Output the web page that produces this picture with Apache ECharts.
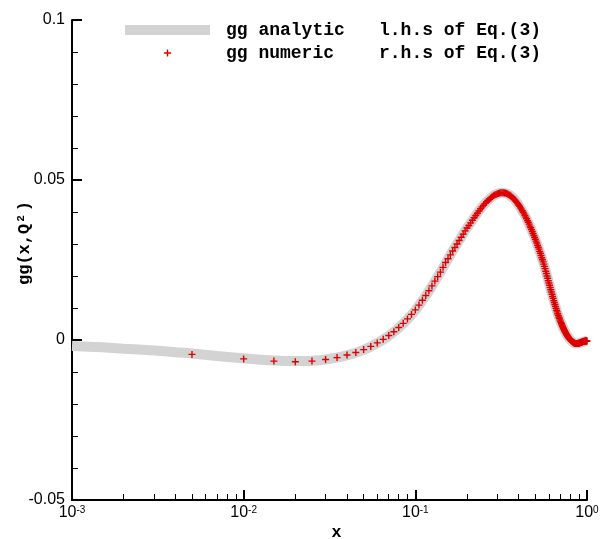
<!DOCTYPE html>
<html>
<head>
<meta charset="utf-8">
<script src="https://cdn.jsdelivr.net/npm/echarts@6/dist/echarts.min.js"></script>
<style>
  html, body { margin: 0; padding: 0; background: #fff; }
  #chart { width: 612px; height: 539px; }
</style>
</head>
<body>
<div id="chart"></div>
<script>
// --- analytic curve (l.h.s of Eq.(3)) ---
const analyticX = [0.001, 0.0015, 0.002, 0.003, 0.004, 0.005, 0.007, 0.01, 0.015, 0.02,
  0.025, 0.03, 0.04, 0.05, 0.06, 0.07, 0.08, 0.09, 0.1, 0.12,
  0.14, 0.16, 0.18, 0.2, 0.22, 0.24, 0.26, 0.28, 0.3, 0.32,
  0.34, 0.36, 0.38, 0.4, 0.43, 0.46, 0.5, 0.54, 0.58, 0.62,
  0.66, 0.7, 0.74, 0.78, 0.82, 0.86, 0.9, 0.94, 0.97, 1.0]
const analyticY = [-0.0019, -0.0023, -0.0027, -0.0033, -0.0038, -0.0042, -0.0050, -0.0057, -0.0064, -0.0066,
  -0.0065, -0.0061, -0.0048, -0.0031, -0.0010, 0.0013, 0.0038, 0.0065, 0.0093, 0.0153,
  0.0212, 0.0266, 0.0311, 0.0350, 0.0382, 0.0410, 0.0432, 0.0448, 0.0457, 0.0460,
  0.0458, 0.0450, 0.0438, 0.0422, 0.0394, 0.0362, 0.0315, 0.0264, 0.0208, 0.0150,
  0.0099, 0.0059, 0.0029, 0.0008, -0.0005, -0.0011, -0.0010, -0.0006, -0.0004, -0.0003]

// --- numeric points (r.h.s of Eq.(3)) ---
const numericX = [
  0.005, 0.010, 0.015, 0.020, 0.025, 0.030, 0.035, 0.040, 0.045, 0.050,
  0.055, 0.060, 0.065, 0.070, 0.075, 0.080, 0.085, 0.090, 0.095, 0.100,
  0.105, 0.110, 0.115, 0.120, 0.125, 0.130, 0.135, 0.140, 0.145, 0.150,
  0.155, 0.160, 0.165, 0.170, 0.175, 0.180, 0.185, 0.190, 0.195, 0.200,
  0.205, 0.210, 0.215, 0.220, 0.225, 0.230, 0.235, 0.240, 0.245, 0.250,
  0.255, 0.260, 0.265, 0.270, 0.275, 0.280, 0.285, 0.290, 0.295, 0.300,
  0.305, 0.310, 0.315, 0.320, 0.325, 0.330, 0.335, 0.340, 0.345, 0.350,
  0.355, 0.360, 0.365, 0.370, 0.375, 0.380, 0.385, 0.390, 0.395, 0.400,
  0.405, 0.410, 0.415, 0.420, 0.425, 0.430, 0.435, 0.440, 0.445, 0.450,
  0.455, 0.460, 0.465, 0.470, 0.475, 0.480, 0.485, 0.490, 0.495, 0.500,
  0.505, 0.510, 0.515, 0.520, 0.525, 0.530, 0.535, 0.540, 0.545, 0.550,
  0.555, 0.560, 0.565, 0.570, 0.575, 0.580, 0.585, 0.590, 0.595, 0.600,
  0.605, 0.610, 0.615, 0.620, 0.625, 0.630, 0.635, 0.640, 0.645, 0.650,
  0.655, 0.660, 0.665, 0.670, 0.675, 0.680, 0.685, 0.690, 0.695, 0.700,
  0.705, 0.710, 0.715, 0.720, 0.725, 0.730, 0.735, 0.740, 0.745, 0.750,
  0.755, 0.760, 0.765, 0.770, 0.775, 0.780, 0.785, 0.790, 0.795, 0.800,
  0.805, 0.810, 0.815, 0.820, 0.825, 0.830, 0.835, 0.840, 0.845, 0.850,
  0.855, 0.860, 0.865, 0.870, 0.875, 0.880, 0.885, 0.890, 0.895, 0.900,
  0.905, 0.910, 0.915, 0.920, 0.925, 0.930, 0.935, 0.940, 0.945, 0.950,
  0.955, 0.960, 0.965, 0.970, 0.975, 0.980, 0.985, 0.990, 0.995, 1.000]
const numericY = [
  -0.0045, -0.0059, -0.0066, -0.0068, -0.0066, -0.0061, -0.0055, -0.0047, -0.0039, -0.0030,
  -0.0020, -0.0009, 0.0002, 0.0014, 0.0026, 0.0039, 0.0052, 0.0066, 0.0080, 0.0094,
  0.0109, 0.0124, 0.0139, 0.0154, 0.0169, 0.0184, 0.0198, 0.0212, 0.0227, 0.0242,
  0.0254, 0.0266, 0.0278, 0.0289, 0.0300, 0.0311, 0.0321, 0.0331, 0.0341, 0.0350,
  0.0358, 0.0366, 0.0374, 0.0382, 0.0389, 0.0396, 0.0403, 0.0410, 0.0416, 0.0421,
  0.0427, 0.0432, 0.0436, 0.0440, 0.0444, 0.0448, 0.0451, 0.0453, 0.0455, 0.0457,
  0.0458, 0.0459, 0.0460, 0.0460, 0.0460, 0.0459, 0.0459, 0.0458, 0.0456, 0.0454,
  0.0452, 0.0450, 0.0447, 0.0444, 0.0441, 0.0438, 0.0434, 0.0430, 0.0426, 0.0422,
  0.0418, 0.0413, 0.0409, 0.0404, 0.0399, 0.0394, 0.0389, 0.0384, 0.0379, 0.0373,
  0.0368, 0.0362, 0.0356, 0.0351, 0.0345, 0.0339, 0.0333, 0.0327, 0.0321, 0.0315,
  0.0309, 0.0303, 0.0296, 0.0290, 0.0284, 0.0277, 0.0271, 0.0264, 0.0257, 0.0251,
  0.0244, 0.0237, 0.0230, 0.0223, 0.0215, 0.0208, 0.0200, 0.0193, 0.0185, 0.0178,
  0.0171, 0.0164, 0.0157, 0.0150, 0.0143, 0.0136, 0.0130, 0.0123, 0.0117, 0.0111,
  0.0105, 0.0099, 0.0093, 0.0088, 0.0082, 0.0077, 0.0072, 0.0068, 0.0063, 0.0059,
  0.0055, 0.0051, 0.0047, 0.0043, 0.0039, 0.0036, 0.0032, 0.0029, 0.0026, 0.0023,
  0.0020, 0.0017, 0.0015, 0.0012, 0.0010, 0.0008, 0.0006, 0.0004, 0.0003, 0.0001,
  -0.0001, -0.0002, -0.0004, -0.0005, -0.0006, -0.0007, -0.0008, -0.0009, -0.0010, -0.0010,
  -0.0011, -0.0011, -0.0011, -0.0011, -0.0011, -0.0011, -0.0011, -0.0010, -0.0010, -0.0010,
  -0.0009, -0.0009, -0.0008, -0.0008, -0.0007, -0.0007, -0.0006, -0.0006, -0.0005, -0.0005,
  -0.0005, -0.0004, -0.0004, -0.0004, -0.0003, -0.0003, -0.0003, -0.0003, -0.0003, -0.0003]

// --- axis ticks ---
const xMinorTicks = [0.002, 0.003, 0.004, 0.005, 0.006, 0.007, 0.008, 0.009,
  0.02, 0.03, 0.04, 0.05, 0.06, 0.07, 0.08, 0.09,
  0.2, 0.3, 0.4, 0.5, 0.6, 0.7, 0.8, 0.9]

const GRAY = '#d3d3d3'
const RED = '#dd0000'
const MONO = '"Liberation Mono", "DejaVu Sans Mono", monospace'
const SANS = '"Liberation Sans", Arial, sans-serif'
const PLUS = 'path://M0,4H10V6H0Z M4,0H6V10H4Z'
// same plus, padded so the legend draws it smaller than the 10px icon box
const PLUS_LEGEND = 'path://M-2,-2h0.01v0.01h-0.01Z M0,4H10V6H0Z M4,0H6V10H4Z M12,12h-0.01v-0.01h0.01Z'

const chart = echarts.init(document.getElementById('chart'))

const option = {
  animation: false,
  backgroundColor: '#fff',
  grid: { left: 72, right: 25, top: 20, bottom: 39, outerBoundsMode: 'none', containLabel: false },
  legend: {
    left: 120,
    top: 16,
    orient: 'vertical',
    itemWidth: 85,
    itemHeight: 10,
    itemGap: 5,
    selectedMode: false,
    data: [
      { name: 'gg analytic', icon: 'rect', itemStyle: { color: GRAY } },
      { name: 'gg numeric', icon: PLUS_LEGEND, itemStyle: { color: RED } }
    ],
    formatter: name => name === 'gg analytic'
      ? '{p| }{a|gg analytic}{b|l.h.s of Eq.(3)}'
      : '{p| }{a|gg numeric}{b|r.h.s of Eq.(3)}',
    textStyle: {
      rich: {
        p: { width: 11, fontSize: 18, lineHeight: 18 },
        a: { width: 153, fontFamily: MONO, fontWeight: 'bold', fontSize: 18, lineHeight: 18, color: '#000' },
        b: { fontFamily: MONO, fontWeight: 'bold', fontSize: 18, lineHeight: 18, color: '#000' }
      }
    }
  },
  xAxis: [
    {
      type: 'log',
      logBase: 10,
      min: 0.001,
      max: 1,
      name: 'x',
      nameLocation: 'middle',
      nameGap: 24,
      nameMoveOverlap: false,
      nameTextStyle: { fontFamily: SANS, fontWeight: 'bold', fontSize: 17, color: '#000', padding: [0, 0, 0, 14] },
      axisLine: { onZero: false, lineStyle: { color: '#000', width: 2 } },
      axisTick: { inside: true, length: 10, lineStyle: { color: '#000', width: 2 } },
      splitLine: { show: false },
      axisLabel: {
        margin: 5,
        formatter: v => '{b|10}{s|' + Math.round(Math.log10(v)) + '}',
        rich: {
          b: { fontFamily: SANS, fontSize: 16, lineHeight: 16, color: '#000' },
          s: { fontFamily: SANS, fontSize: 10, lineHeight: 10, verticalAlign: 'top', color: '#000' }
        }
      }
    },
    {
      // minor ticks of the log axis (2..9 of each decade)
      type: 'log',
      logBase: 10,
      min: 0.001,
      max: 1,
      position: 'bottom',
      axisLine: { show: false, onZero: false },
      axisLabel: { show: false },
      splitLine: { show: false },
      axisTick: { inside: true, length: 6, customValues: xMinorTicks, lineStyle: { color: '#000', width: 1 } }
    }
  ],
  yAxis: {
    type: 'value',
    min: -0.05,
    max: 0.1,
    interval: 0.05,
    name: 'gg(x,Q{s|2})',
    nameLocation: 'middle',
    nameGap: 39,
    nameRotate: 90,
    nameMoveOverlap: false,
    nameTextStyle: {
      color: '#000',
      padding: [0, 0, 0, 34],
      rich: {
        s: { fontFamily: MONO, fontWeight: 'bold', fontSize: 11, lineHeight: 10, verticalAlign: 'top', padding: [0, 4, 0, 2] }
      },
      fontFamily: MONO,
      fontWeight: 'bold',
      fontSize: 17
    },
    axisLine: { show: true, onZero: false, lineStyle: { color: '#000', width: 2 } },
    axisTick: { show: true, inside: true, length: 10, lineStyle: { color: '#000', width: 2 } },
    minorTick: { show: true, splitNumber: 5, length: 6, lineStyle: { color: '#000', width: 1 } },
    splitLine: { show: false },
    axisLabel: { margin: 7, fontFamily: SANS, fontSize: 16, color: '#000' }
  },
  series: [
    {
      name: 'gg analytic',
      type: 'line',
      smooth: 0.3,
      symbol: 'none',
      lineStyle: { color: GRAY, width: 10 },
      itemStyle: { color: GRAY },
      data: analyticX.map((x, i) => [x, analyticY[i]]),
      z: 2
    },
    {
      name: 'gg numeric',
      type: 'scatter',
      symbol: PLUS,
      symbolSize: 7,
      symbolKeepAspect: true,
      itemStyle: { color: RED, opacity: 1 },
      data: numericX.map((x, i) => [x, numericY[i]]),
      z: 3
    }
  ]
}

chart.setOption(option)
</script>
</body>
</html>
